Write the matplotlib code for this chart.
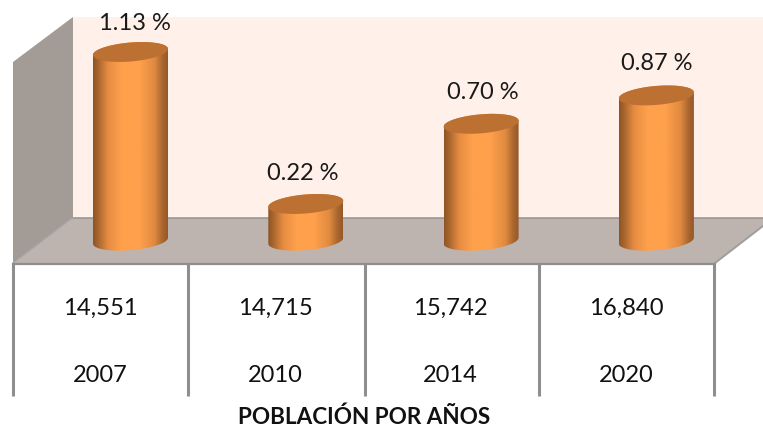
import numpy as np
import matplotlib
matplotlib.use("Agg")
import matplotlib.pyplot as plt
from matplotlib.patches import Polygon
from matplotlib.colors import LinearSegmentedColormap

years = ["2007", "2010", "2014", "2020"]
population = ["14,551", "14,715", "15,742", "16,840"]
rates = [1.13, 0.22, 0.70, 0.87]
rate_labels = ["1.13 %", "0.22 %", "0.70 %", "0.87 %"]
title = "POBLACIÓN POR AÑOS"

label_nudge_pt = [(3, 21.5), (-2, 22.5), (1, 23), (0, 23.5)]

W, H = 763, 427
plt.rcParams['font.family'] = ['Lato', 'DejaVu Sans']
fig = plt.figure(figsize=(W / 100, H / 100), dpi=100, facecolor="white")

# Chart frame, in pixel coordinates
bg = fig.add_axes([0, 0, 1, 1])
bg.set_xlim(0, W); bg.set_ylim(H, 0); bg.axis("off")
bg.add_patch(Polygon([(73, 18), (763, 18), (763, 219), (73, 219)], fc="#FFF0E9", ec="none"))
bg.add_patch(Polygon([(13, 63), (73, 18), (73, 219), (13, 264)], fc="#A39B96", ec="none"))
bg.add_patch(Polygon([(13, 264), (72, 219), (763, 219), (763, 227), (715, 264)], fc="#BDB3AF", ec="none"))
bg.plot([72, 763], [219, 219], color="#9C9794", lw=1.2)
bg.plot([13, 72], [264, 219], color="#A8A4A2", lw=1.0)
bg.plot([715, 763], [264, 227], color="#9E9E9E", lw=1.4)
bg.plot([13, 715], [265, 265], color="#8E8E8E", lw=1.6)
for x in [12.5, 188, 365, 539, 714]:
    bg.plot([x, x], [265, 397], color="#8E8E8E", lw=2.2, solid_capstyle="butt")

# Data axes: categories on x, rate on y
X0, DX = 130.5, 175.3
Y0, PX = 241.7, 167.0
ax = fig.add_axes([0, 0, 1, 1])
ax.axis("off"); ax.patch.set_alpha(0)

half_w = 37.5 / DX
semi_b = 9.5 / PX
tilt = 3.0 / PX
cell_shift = -30.5 / DX
cmap = LinearSegmentedColormap.from_list("cyl", [
    (0.00, "#8E5424"), (0.07, "#A9662E"), (0.20, "#E68C42"), (0.38, "#FFA04C"),
    (0.62, "#FFA04C"), (0.82, "#E08A40"), (0.93, "#A9662E"), (1.00, "#94582A")])
grad = np.linspace(0, 1, 256)[None, :]
t = np.linspace(0, 2 * np.pi, 121)

def rim(xc, v, tt):
    return xc + half_w * np.cos(tt), v + semi_b * np.sin(tt) + tilt * np.cos(tt)

for i, v in enumerate(rates):
    lower = np.linspace(np.pi, 2 * np.pi, 60)
    upper = np.linspace(0, np.pi, 60)
    bx, by = rim(i, 0, lower)
    tx, ty = rim(i, v, upper)
    verts = np.column_stack([np.r_[bx, tx], np.r_[by, ty]])
    body = Polygon(verts, closed=True, transform=ax.transData, fc="none", ec="none")
    ax.add_patch(body)
    im = ax.imshow(grad, cmap=cmap, aspect="auto", zorder=2,
                   extent=[i - half_w, i + half_w, -0.1, v + 0.1])
    im.set_clip_path(body)
    ex, ey = rim(i, v, t)
    ax.fill(ex, ey, color="#BC7032", zorder=3, lw=0)
    ax.annotate(rate_labels[i], (i, v), xytext=label_nudge_pt[i], textcoords="offset points",
                ha="center", va="center", fontsize=17, color="#1A1A1A", zorder=4)
    ax.text(i + cell_shift, (Y0 - 308.5) / PX, population[i], ha="center", va="center",
            fontsize=17.2, color="#111111")
    ax.text(i + cell_shift, (Y0 - 375) / PX, years[i], ha="center", va="center",
            fontsize=17, color="#111111")

ax.set_xlim(-X0 / DX, (W - X0) / DX)
ax.set_ylim((Y0 - H) / PX, Y0 / PX)
fig.text(364.5 / W, 1 - 417 / H, title, ha="center", va="center",
         fontsize=16.2, fontweight="bold", color="#111111")
fig.savefig("out.png", dpi=100)
